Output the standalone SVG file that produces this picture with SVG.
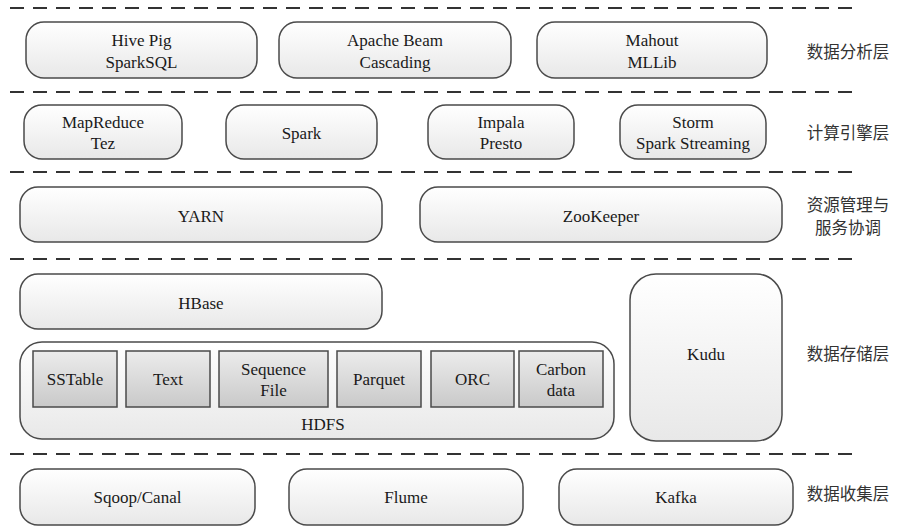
<svg xmlns="http://www.w3.org/2000/svg" width="900" height="531" viewBox="0 0 900 531">
<defs>
<linearGradient id="gBox" x1="0" y1="0" x2="0" y2="1">
<stop offset="0" stop-color="#ffffff"/>
<stop offset="1" stop-color="#e8e8e8"/>
</linearGradient>
<linearGradient id="gInner" x1="0" y1="0" x2="0" y2="1">
<stop offset="0" stop-color="#ececec"/>
<stop offset="1" stop-color="#c9c9c9"/>
</linearGradient>
</defs>
<style>
.box{fill:url(#gBox);stroke:#4a4a4a;stroke-width:1.5}
.inner{fill:url(#gInner);stroke:#4a4a4a;stroke-width:1.5}
.sep{stroke:#333;stroke-width:2;stroke-dasharray:14 9;fill:none}
.t{font-family:"Liberation Serif","Times New Roman",serif;font-size:17px;fill:#1a1a1a;text-anchor:middle}
.cn{font-family:"Noto Sans CJK SC",sans-serif;font-size:16.5px;fill:#333;text-anchor:middle}
</style>
<rect width="900" height="531" fill="#ffffff"/>
<g id="separators">
<line class="sep" x1="10" y1="8" x2="860" y2="8"/>
<line class="sep" x1="10" y1="92" x2="860" y2="92"/>
<line class="sep" x1="10" y1="172" x2="860" y2="172"/>
<line class="sep" x1="10" y1="259" x2="860" y2="259"/>
<line class="sep" x1="10" y1="454" x2="860" y2="454"/>
</g>
<g id="connectors"></g>
<g id="hive"><rect class="box" x="26" y="22" width="231" height="56" rx="18"/><text class="t" x="141.5" y="46">Hive Pig</text><text class="t" x="141.5" y="68">SparkSQL</text></g>
<g id="beam"><rect class="box" x="279" y="22" width="232" height="56" rx="18"/><text class="t" x="395" y="46">Apache Beam</text><text class="t" x="395" y="68">Cascading</text></g>
<g id="mahout"><rect class="box" x="537" y="22" width="230" height="56" rx="18"/><text class="t" x="652" y="46">Mahout</text><text class="t" x="652" y="68">MLLib</text></g>
<g id="mapreduce"><rect class="box" x="24" y="105" width="158" height="54" rx="18"/><text class="t" x="103" y="128">MapReduce</text><text class="t" x="103" y="149">Tez</text></g>
<g id="spark"><rect class="box" x="226" y="105" width="151" height="54" rx="18"/><text class="t" x="301.5" y="139">Spark</text></g>
<g id="impala"><rect class="box" x="428" y="105" width="146" height="54" rx="18"/><text class="t" x="501" y="128">Impala</text><text class="t" x="501" y="149">Presto</text></g>
<g id="storm"><rect class="box" x="620" y="105" width="146" height="54" rx="18"/><text class="t" x="693" y="128">Storm</text><text class="t" x="693" y="149">Spark Streaming</text></g>
<g id="yarn"><rect class="box" x="20" y="187" width="362" height="55" rx="18"/><text class="t" x="201" y="222">YARN</text></g>
<g id="zookeeper"><rect class="box" x="420" y="187" width="362" height="55" rx="18"/><text class="t" x="601" y="222">ZooKeeper</text></g>
<g id="hbase"><rect class="box" x="20" y="274" width="362" height="55" rx="18"/><text class="t" x="201" y="309">HBase</text></g>
<g id="hdfs"><rect class="box" x="20" y="342" width="594" height="97" rx="22"/><text class="t" x="323" y="430">HDFS</text>
<g id="sstable"><rect class="inner" x="33" y="351" width="84" height="56"/><text class="t" x="75" y="385">SSTable</text></g>
<g id="text"><rect class="inner" x="126" y="351" width="84" height="56"/><text class="t" x="168" y="385">Text</text></g>
<g id="sequencefile"><rect class="inner" x="219" y="351" width="109" height="56"/><text class="t" x="273.5" y="375">Sequence</text><text class="t" x="273.5" y="396">File</text></g>
<g id="parquet"><rect class="inner" x="337" y="351" width="84" height="56"/><text class="t" x="379" y="385">Parquet</text></g>
<g id="orc"><rect class="inner" x="431" y="351" width="83" height="56"/><text class="t" x="472.5" y="385">ORC</text></g>
<g id="carbondata"><rect class="inner" x="519" y="351" width="84" height="56"/><text class="t" x="561" y="375">Carbon</text><text class="t" x="561" y="396">data</text></g>
</g>
<g id="kudu"><rect class="box" x="630" y="274" width="152" height="167" rx="26"/><text class="t" x="706" y="360">Kudu</text></g>
<g id="sqoop"><rect class="box" x="20" y="469" width="235" height="56" rx="18"/><text class="t" x="137.5" y="503">Sqoop/Canal</text></g>
<g id="flume"><rect class="box" x="289" y="469" width="234" height="56" rx="18"/><text class="t" x="406" y="503">Flume</text></g>
<g id="kafka"><rect class="box" x="559" y="469" width="234" height="56" rx="18"/><text class="t" x="676" y="503">Kafka</text></g>
<g id="layer-labels">
<text class="cn" x="848" y="58">数据分析层</text>
<text class="cn" x="848" y="139">计算引擎层</text>
<text class="cn" x="848" y="211">资源管理与</text>
<text class="cn" x="848" y="234">服务协调</text>
<text class="cn" x="848" y="360">数据存储层</text>
<text class="cn" x="848" y="500">数据收集层</text>
</g>
</svg>
